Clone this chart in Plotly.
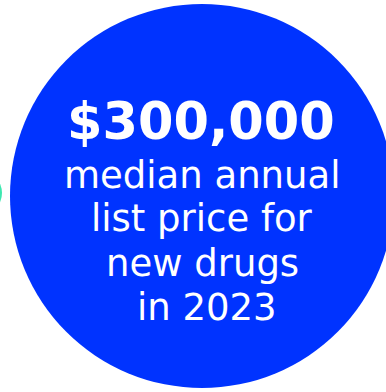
import plotly.graph_objects as go

# Data
circle_names = ["main", "neighbor"]
circle_cx = [202, -20]
circle_cy = [196, 193]
circle_r = [192, 22]
circle_colors = ["#0033ff", "#3de8b0"]

headline = "$300,000"
lines = ["median annual", "list price for", "new drugs", "in 2023"]
line_x = [202, 202, 202, 207]
line_y = [175, 218, 263, 307]
headline_x = 201
headline_y = 121

fig = go.Figure()

# invisible trace to establish axes
fig.add_trace(go.Scatter(x=[0, 386], y=[0, 392], mode="markers",
                         marker=dict(opacity=0), hoverinfo="skip", showlegend=False))

shapes = []
for cx, cy, r, c in zip(circle_cx, circle_cy, circle_r, circle_colors):
    shapes.append(dict(type="circle", xref="x", yref="y",
                       x0=cx - r, x1=cx + r, y0=cy - r, y1=cy + r,
                       fillcolor=c, line=dict(width=0), layer="below"))

annotations = [dict(x=headline_x, y=headline_y, xref="x", yref="y",
                    text="<b>" + headline + "</b>", showarrow=False,
                    xanchor="center", yanchor="middle",
                    font=dict(family="DejaVu Sans", size=51, color="white"))]
for t, x, y in zip(lines, line_x, line_y):
    annotations.append(dict(x=x, y=y, xref="x", yref="y", text=t, showarrow=False,
                            xanchor="center", yanchor="middle",
                            font=dict(family="DejaVu Sans", size=37, color="white")))

fig.update_layout(
    width=386, height=392,
    margin=dict(l=0, r=0, t=0, b=0),
    paper_bgcolor="white", plot_bgcolor="white",
    xaxis=dict(range=[0, 386], visible=False, fixedrange=True),
    yaxis=dict(range=[392, 0], visible=False, fixedrange=True),
    shapes=shapes, annotations=annotations, showlegend=False,
)

fig.write_html("out.html", config={"displayModeBar": False})
